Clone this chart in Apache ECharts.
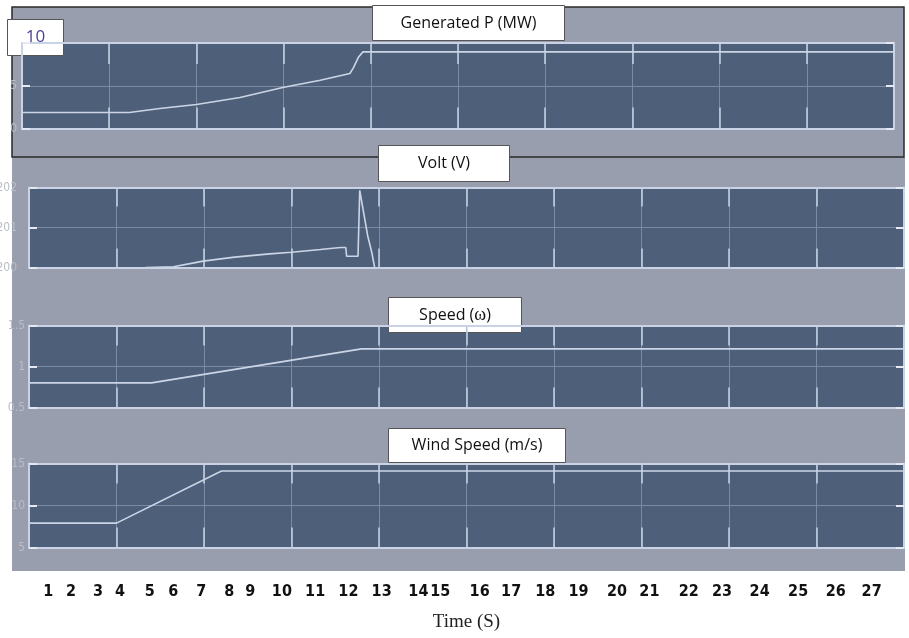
<!DOCTYPE html>
<html>
<head>
<meta charset="utf-8">
<title>Wind turbine scope</title>
<script src="https://cdn.jsdelivr.net/npm/echarts@6/dist/echarts.min.js"></script>
<style>
  html, body { margin: 0; padding: 0; background: #fff; }
  #main { width: 909px; height: 638px; }
</style>
</head>
<body>
<div id="main"></div>
<script>
// time axis of every scope panel runs over 10 divisions (0..10)
var powerData = [[0, 1.87], [1.23, 1.87], [1.58, 2.34], [2.0, 2.81], [2.5, 3.63], [2.99, 4.8],
  [3.42, 5.65], [3.76, 6.43], [3.8, 7.1], [3.86, 8.37], [3.91, 8.96], [10, 8.96]]
var voltData = [[1.33, 200.0], [1.65, 200.02], [1.66, 200.07], [1.87, 200.11], [1.99, 200.16],
  [2.35, 200.26], [2.75, 200.34], [3.0, 200.38], [3.33, 200.45], [3.56, 200.5], [3.62, 200.5],
  [3.63, 200.28], [3.76, 200.28], [3.78, 201.93], [3.87, 200.8], [3.92, 200.35], [3.95, 200.0]]
var speedData = [[0, 0.8], [1.4, 0.8], [3.8, 1.215], [10, 1.215]]
var windData = [[0, 7.9], [1.0, 7.9], [2.2, 14.1], [10, 14.1]]

var panelTitles = ['Generated P (MW)', 'Volt (V)', '{a|Speed (}{w|ω}{a|)}', 'Wind Speed (m/s)']

// seconds written under the scopes, and where each one sits along the division axis
var timeTicks = ['1', '2', '3', '4', '5', '6', '7', '8', '9', '10', '11', '12', '13', '14',
  '15', '16', '17', '18', '19', '20', '21', '22', '23', '24', '25', '26', '27']
var timeTickAt = [0.22, 0.48, 0.79, 1.04, 1.38, 1.65, 1.97, 2.29, 2.53, 2.89, 3.27, 3.65, 4.03,
  4.45, 4.7, 5.15, 5.51, 5.9, 6.28, 6.72, 7.09, 7.54, 7.92, 8.35, 8.79, 9.22, 9.63]

var bright = '#c9d3e5'
var dim = '#7b8ba4'
var plotBg = '#4e6079'
var outerGray = '#999eaf'
var narrow = "'Liberation Sans Narrow', 'DejaVu Sans Condensed', sans-serif"

var panels = [
  { left: 22, top: 43, width: 872, height: 85.5, min: 0, max: 10, interval: 5, labelMargin: 5, hideMax: true, data: powerData },
  { left: 29, top: 187.5, width: 875, height: 80, min: 200, max: 202, interval: 1, labelMargin: 12, data: voltData },
  { left: 29, top: 325.5, width: 875, height: 82, min: 0.5, max: 1.5, interval: 0.5, labelMargin: 4, data: speedData },
  { left: 29, top: 463.5, width: 875, height: 84, min: 5, max: 15, interval: 5, labelMargin: 4, data: windData }
]

var grid = []
var xAxis = []
var yAxis = []
var series = []

panels.forEach(function (p, i) {
  grid.push({
    left: p.left, top: p.top, width: p.width, height: p.height, outerBoundsMode: 'none',
    show: true, backgroundColor: plotBg, borderWidth: 0
  })
  var tickLen = Math.round(p.height * 0.24)
  xAxis.push({
    type: 'value', gridIndex: i, min: 0, max: 10, interval: 1,
    axisLine: { onZero: false, lineStyle: { color: bright, width: 2 } },
    axisTick: { inside: true, length: tickLen, lineStyle: { color: bright, width: 1.5 } },
    axisLabel: { show: false },
    splitLine: { show: true, lineStyle: { color: dim, width: 1 } }
  })
  xAxis.push({
    type: 'value', gridIndex: i, position: 'top', min: 0, max: 10, interval: 1,
    axisLine: { onZero: false, lineStyle: { color: bright, width: 2 } },
    axisTick: { inside: true, length: tickLen, lineStyle: { color: bright, width: 1.5 } },
    axisLabel: { show: false },
    splitLine: { show: false }
  })
  yAxis.push({
    type: 'value', gridIndex: i, min: p.min, max: p.max, interval: p.interval,
    axisLine: { show: true, onZero: false, lineStyle: { color: bright, width: 2 } },
    axisTick: { show: true, inside: true, length: 8, lineStyle: { color: '#e4e9f2', width: 2 } },
    axisLabel: {
      margin: p.labelMargin, color: '#b9bdc6', fontSize: 12, fontFamily: narrow,
      formatter: function (v) { return (p.hideMax && v === p.max) ? '' : String(v) }
    },
    splitLine: { show: true, lineStyle: { color: dim, width: 1 } }
  })
  yAxis.push({
    type: 'value', gridIndex: i, position: 'right', min: p.min, max: p.max, interval: p.interval,
    axisLine: { show: true, onZero: false, lineStyle: { color: bright, width: 2 } },
    axisTick: { show: true, inside: true, length: 8, lineStyle: { color: '#e4e9f2', width: 2 } },
    axisLabel: { show: false },
    splitLine: { show: false }
  })
  series.push({
    type: 'line', xAxisIndex: i * 2, yAxisIndex: i * 2, data: p.data,
    showSymbol: false, lineStyle: { color: '#ccd5e6', width: 1.6 }, z: 5
  })
})

// row of second labels under the scopes
grid.push({ left: 29, top: 578, width: 875, height: 2, outerBoundsMode: 'none' })
xAxis.push({
  type: 'value', gridIndex: 4, min: 0, max: 10,
  axisLine: { show: false }, axisTick: { show: false }, splitLine: { show: false },
  axisLabel: {
    customValues: timeTickAt, margin: 4, color: '#111', fontSize: 16, fontWeight: 'bold',
    fontFamily: narrow,
    formatter: function (v) {
      var best = 0
      timeTickAt.forEach(function (t, k) { if (Math.abs(t - v) < Math.abs(timeTickAt[best] - v)) best = k })
      return timeTicks[best]
    }
  },
  name: 'Time (S)', nameLocation: 'middle', nameGap: 33,
  nameTextStyle: { fontFamily: "'Liberation Serif', serif", fontSize: 19, color: '#222' }
})
yAxis.push({ type: 'value', gridIndex: 4, show: false })

function titleBox (x, y, w, h, text, extra) {
  return {
    type: 'group', left: x, top: y, z: 100,
    children: [
      { type: 'rect', shape: { x: 0, y: 0, width: w, height: h }, style: { fill: '#fff', stroke: '#555', lineWidth: 1 } },
      {
        type: 'text', x: w / 2, y: h / 2,
        style: Object.assign({
          text: text, fill: '#111', font: "16px 'Open Sans', sans-serif",
          align: 'center', verticalAlign: 'middle',
          rich: {
            a: { fontFamily: 'Open Sans', fontSize: 16, fill: '#111' },
            w: { fontFamily: 'Liberation Serif', fontSize: 18, fill: '#111' }
          }
        }, extra || {})
      }
    ]
  }
}

var option = {
  backgroundColor: '#fff',
  animation: false,
  grid: grid,
  xAxis: xAxis,
  yAxis: yAxis,
  series: series,
  graphic: [
    { type: 'rect', z: -100, shape: { x: 12, y: 157, width: 893, height: 414 }, style: { fill: outerGray } },
    { type: 'rect', z: -100, shape: { x: 12, y: 7, width: 892, height: 150 }, style: { fill: outerGray, stroke: '#2a2a2a', lineWidth: 1.5 } },
    titleBox(7, 19, 56, 36, '10', { fill: '#4b3f93', font: "17px 'Open Sans', sans-serif" }),
    titleBox(372, 5, 192, 35, panelTitles[0]),
    titleBox(378, 145, 131, 36, panelTitles[1]),
    titleBox(388, 297, 133, 35, panelTitles[2]),
    titleBox(388, 428, 177, 34, panelTitles[3])
  ]
}

var myChart = echarts.init(document.getElementById('main'))
myChart.setOption(option)
</script>
</body>
</html>
